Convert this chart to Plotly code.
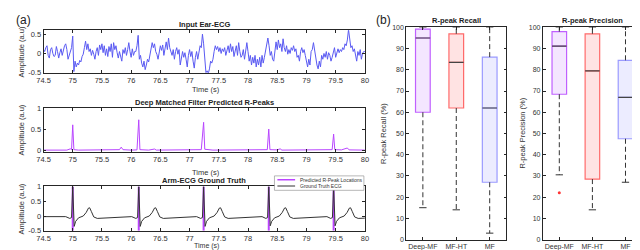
import numpy as np
import plotly.graph_objects as go

# ---------------- data: panel (a) ----------------
ear_dt = 0.02
ear_amp = [
    0.10, 0.05, 0.15, 0.20, -0.05,
    -0.12, 0.10, 0.15, 0.00, -0.08,
    -0.05, 0.18, 0.05, -0.12, 0.02,
    0.12, -0.05, 0.08, 0.20, 0.25,
    0.10, -0.15, -0.05, 0.05, 0.15,
    0.45, -0.47, -0.20, -0.35, -0.25,
    -0.30, -0.18, -0.22, -0.08, -0.02,
    0.15, 0.32, 0.10, 0.25, 0.05,
    0.12, -0.05, 0.08, -0.02, -0.15,
    0.05, 0.15, -0.05, 0.22, 0.10,
    0.25, 0.02, 0.20, -0.05, 0.12,
    -0.08, 0.18, 0.05, 0.25, -0.10,
    0.28, 0.10, 0.20, 0.02, -0.12,
    0.05, -0.08, -0.20, 0.10, 0.00,
    0.15, -0.05, 0.10, 0.28, 0.05,
    -0.10, 0.12, -0.05, 0.05, 0.05,
    0.20, 0.47, -0.15, -0.05, -0.25,
    -0.35, -0.20, -0.42, -0.30, -0.15,
    -0.22, -0.05, 0.05, 0.28, 0.15,
    0.25, 0.05, -0.02, -0.15, 0.05,
    0.20, 0.08, 0.22, -0.05, 0.15,
    0.30, 0.10, 0.40, 0.15, 0.05,
    -0.05, 0.10, -0.15, 0.05, 0.15,
    -0.02, 0.10, -0.30, -0.05, 0.05,
    -0.10, 0.02, -0.15, -0.35, -0.05,
    0.10, -0.08, 0.05, -0.20, -0.38,
    -0.10, 0.05, -0.15, 0.02, 0.20,
    0.15, 0.50, 0.25, -0.30, -0.50,
    -0.45, -0.52, -0.40, -0.20, -0.25,
    -0.15, 0.05, 0.20, 0.10, 0.18,
    0.05, 0.15, 0.00, 0.12, 0.05,
    0.15, -0.05, 0.12, 0.20, 0.02,
    0.25, 0.05, 0.18, -0.08, 0.10,
    0.20, -0.05, 0.28, 0.05, -0.10,
    -0.05, 0.10, -0.15, 0.05, 0.28,
    0.05, -0.20, -0.05, -0.30, -0.10,
    -0.25, -0.05, -0.35, -0.15, -0.30,
    -0.10, -0.35, -0.05, -0.25, -0.10,
    0.05, 0.15, 0.40, 0.20, -0.05,
    0.05, -0.15, -0.20, 0.05, 0.30,
    0.10, 0.35, 0.15, 0.25, 0.05,
    0.38, 0.15, 0.05, 0.20, -0.02,
    0.10, 0.00, 0.15, 0.08, 0.20,
    0.05, 0.12, -0.10, -0.05, -0.20,
    0.05, 0.15, 0.02, 0.10, -0.05,
    -0.25, -0.35, -0.15, -0.30, 0.05,
    0.10, 0.28, 0.05, -0.10, -0.30,
    -0.40, -0.20, -0.35, -0.05, -0.15,
    0.00, -0.10, 0.05, -0.15, 0.02,
    -0.05, -0.20, -0.10, 0.05, 0.15,
    -0.10, 0.05, 0.12, 0.02, 0.10,
    0.05, 0.15, 0.10, 0.25, 0.20,
    0.35, 0.62, 0.30, 0.15, 0.20,
    0.05, 0.12, -0.10, -0.20, 0.05,
    -0.05, 0.10, -0.15, 0.00, 0.05,
    0.05,
]
ear_t = np.round(74.5 + ear_dt * np.arange(len(ear_amp)), 3)

mf_t = [74.5, 74.7, 74.9, 74.96, 74.98, 75.0, 75.02, 75.1, 75.3, 75.5, 75.7, 75.8,
        75.83, 75.86, 76.0, 76.1, 76.13, 76.15, 76.3, 76.4, 76.43, 76.6, 76.8, 77.0,
        77.2, 77.24, 77.26, 77.4, 77.6, 77.9, 78.1, 78.2, 78.33, 78.355, 78.375,
        78.5, 78.55, 78.58, 78.8, 79.0, 79.2, 79.44, 79.465, 79.485, 79.6, 79.7,
        79.73, 79.85, 80.0]
mf_amp = [0.01, 0.015, 0.01, 0.04, 0.02, 0.61, 0.02, 0.01, 0.012, 0.01, 0.015, 0.02,
          0.08, 0.02, 0.01, 0.015, 0.73, 0.02, 0.01, 0.035, 0.01, 0.012, 0.01, 0.015,
          0.02, 0.67, 0.03, 0.01, 0.012, 0.01, 0.02, 0.01, 0.02, 0.51, 0.02,
          0.015, 0.04, 0.01, 0.012, 0.01, 0.015, 0.02, 0.39, 0.02, 0.015, 0.06,
          0.015, 0.012, 0.01]

ecg_t = [74.5, 74.7, 74.88, 74.95, 74.98, 75.0, 75.025, 75.05, 75.1, 75.18, 75.23, 75.27,
         75.29, 75.32, 75.36, 75.42, 75.6, 75.8, 76.01,
         76.08, 76.11, 76.13, 76.155, 76.18, 76.23, 76.31, 76.36, 76.4, 76.42, 76.45,
         76.49, 76.55, 76.73, 76.93, 77.12,
         77.19, 77.22, 77.24, 77.265, 77.29, 77.34, 77.42, 77.47, 77.51, 77.53, 77.56,
         77.6, 77.66, 77.84, 78.04, 78.24,
         78.305, 78.335, 78.355, 78.38, 78.405, 78.455, 78.535, 78.585, 78.625, 78.645,
         78.675, 78.715, 78.775, 78.955, 79.155, 79.35,
         79.415, 79.445, 79.465, 79.49, 79.515, 79.565, 79.645, 79.695, 79.735, 79.755,
         79.785, 79.825, 79.885, 80.0]
ecg_amp = [-0.02, -0.01, -0.02, -0.08, -0.05, 1.0, -0.35, -0.18, -0.06, 0.0, 0.12, 0.27,
           0.28, 0.15, -0.03, -0.08, -0.06, -0.04, -0.02,
           -0.08, -0.05, 1.0, -0.35, -0.18, -0.06, 0.0, 0.12, 0.27, 0.28, 0.15,
           -0.03, -0.08, -0.06, -0.04, -0.02,
           -0.08, -0.05, 1.0, -0.35, -0.18, -0.06, 0.0, 0.12, 0.27, 0.28, 0.15,
           -0.03, -0.08, -0.06, -0.04, -0.02,
           -0.08, -0.05, 1.0, -0.33, -0.18, -0.06, 0.0, 0.12, 0.27, 0.28,
           0.15, -0.03, -0.08, -0.06, -0.04, -0.02,
           -0.08, -0.05, 1.0, -0.33, -0.18, -0.06, 0.0, 0.12, 0.27, 0.28,
           0.15, -0.03, -0.08, -0.07]

pred_r_peaks = [75.0, 76.13, 77.24, 78.355, 79.465]
legend_labels = ["Predicted R-Peak Locations", "Ground Truth ECG"]

# ---------------- data: panel (b) ----------------
methods = ["Deep-MF", "MF-HT", "MF"]
recall_lower = [15, 14, 3]
recall_q1 = [60, 62, 27]
recall_median = [95, 83.5, 62]
recall_q3 = [99.2, 97, 86]
recall_upper = [100, 100, 100]

prec_lower = [30.5, 14, 27]
prec_q1 = [68.5, 28.5, 47.5]
prec_median = [91.2, 79.5, 67]
prec_q3 = [98, 97, 84.5]
prec_upper = [100, 100, 100]
prec_outlier_method = [0]
prec_outlier_value = [22]

# ---------------- styling ----------------
FONT = "Liberation Sans"
TICKC = "#333333"
line_col = ["#c060ff", "#ff6a6a", "#9a9aff"]
fill_col = ["#f4e6ff", "#ffe3e3", "#ececff"]
PEAK_COL = "#bb44ff"
ECG_COL = "#333333"
W, H = 640, 250


def dom_x(a, b):
    return [a / W, b / W]


def dom_y(top, bottom):
    return [1 - bottom / H, 1 - top / H]


fig = go.Figure()

# Top: ear ECG
fig.add_trace(go.Scatter(x=ear_t, y=ear_amp, mode="lines", line=dict(color="#5a5af2", width=1),
                         showlegend=False, xaxis="x", yaxis="y"))
# Middle: deep MF output
fig.add_trace(go.Scatter(x=mf_t, y=mf_amp, mode="lines", line=dict(color="#b845ff", width=1),
                         showlegend=False, xaxis="x2", yaxis="y2"))
# Bottom: predicted R-peaks + ground truth
y3_range = [-0.5, 1.0]
px, py = [], []
for t in pred_r_peaks:
    px += [t, t, None]
    py += [y3_range[0], y3_range[1], None]
fig.add_trace(go.Scatter(x=px, y=py, mode="lines", line=dict(color=PEAK_COL, width=2),
                         name=legend_labels[0], showlegend=False, xaxis="x3", yaxis="y3"))
fig.add_trace(go.Scatter(x=ecg_t, y=ecg_amp, mode="lines", line=dict(color=ECG_COL, width=1),
                         name=legend_labels[1], showlegend=False, xaxis="x3", yaxis="y3"))

# Box plots
positions = [1, 2, 3]
cap = 0.11
bw = 0.44


def add_boxes(xa, ya, lower, q1, med, q3, upper):
    for i, m in enumerate(methods):
        fig.add_trace(go.Box(x=[positions[i]], q1=[q1[i]], median=[med[i]], q3=[q3[i]],
                             lowerfence=[q1[i]], upperfence=[q3[i]], width=bw,
                             fillcolor=fill_col[i], line=dict(color=line_col[i], width=1.2),
                             boxpoints=False, showlegend=False, hoverinfo="skip",
                             xaxis=xa, yaxis=ya))
    wx, wy, cx, cy, mx, my = [], [], [], [], [], []
    for i in range(len(methods)):
        p = positions[i]
        wx += [p, p, None, p, p, None]
        wy += [q3[i], upper[i], None, q1[i], lower[i], None]
        cx += [p - cap, p + cap, None, p - cap, p + cap, None]
        cy += [upper[i], upper[i], None, lower[i], lower[i], None]
        mx += [p - bw / 2, p + bw / 2, None]
        my += [med[i], med[i], None]
    fig.add_trace(go.Scatter(x=wx, y=wy, mode="lines", line=dict(color="#333333", width=1, dash="5px,3px"),
                             showlegend=False, xaxis=xa, yaxis=ya))
    fig.add_trace(go.Scatter(x=cx, y=cy, mode="lines", line=dict(color="#333333", width=1),
                             showlegend=False, xaxis=xa, yaxis=ya))
    fig.add_trace(go.Scatter(x=mx, y=my, mode="lines", line=dict(color="#444444", width=1.2),
                             showlegend=False, xaxis=xa, yaxis=ya))


add_boxes("x4", "y4", recall_lower, recall_q1, recall_median, recall_q3, recall_upper)
add_boxes("x5", "y5", prec_lower, prec_q1, prec_median, prec_q3, prec_upper)
fig.add_trace(go.Scatter(x=[positions[i] for i in prec_outlier_method], y=prec_outlier_value,
                         mode="markers", marker=dict(color="#ff3333", size=3),
                         showlegend=False, xaxis="x5", yaxis="y5"))

axis_common = dict(showline=True, linecolor="#262626", linewidth=0.7, mirror="ticks",
                   ticks="inside", ticklen=3, tickcolor="#262626", tickwidth=0.7,
                   showgrid=False, zeroline=False, tickfont=dict(family=FONT, size=7.5, color=TICKC))
box_axis = dict(axis_common)
box_axis["tickfont"] = dict(family=FONT, size=7, color=TICKC)

xa_dom = dom_x(29, 356)
xticks = [74.5, 75, 75.5, 76, 76.5, 77, 77.5, 78, 78.5, 79, 79.5, 80]
xtick_text = ["74.5", "75", "75.5", "76", "76.5", "77", "77.5", "78", "78.5", "79", "79.5", "80"]

layout = dict(
    width=W, height=H, margin=dict(l=0, r=0, t=0, b=0),
    paper_bgcolor="white", plot_bgcolor="white",
    font=dict(family=FONT, size=7.5, color="#222"),
    xaxis=dict(domain=xa_dom, range=[74.5, 80], anchor="y", tickvals=xticks, ticktext=xtick_text, **axis_common),
    yaxis=dict(domain=dom_y(19, 63), range=[-0.5, 0.6], anchor="x", tickvals=[-0.5, 0, 0.5],
               ticktext=["-0.5", "0", "0.5"], **axis_common),
    xaxis2=dict(domain=xa_dom, range=[74.5, 80], anchor="y2", tickvals=xticks, ticktext=xtick_text, **axis_common),
    yaxis2=dict(domain=dom_y(100, 145), range=[-0.03, 1.0], anchor="x2", tickvals=[0, 0.5, 1],
                ticktext=["0", "0.5", "1"], **axis_common),
    xaxis3=dict(domain=xa_dom, range=[74.5, 80], anchor="y3", tickvals=xticks, ticktext=xtick_text, **axis_common),
    yaxis3=dict(domain=dom_y(181, 227), range=y3_range, anchor="x3", tickvals=[-0.5, 0, 0.5, 1],
                ticktext=["-0.5", "0", "0.5", "1"], **axis_common),
    xaxis4=dict(domain=dom_x(398, 500), range=[0.5, 3.5], anchor="y4", tickvals=positions, ticktext=methods, **box_axis),
    yaxis4=dict(domain=dom_y(16, 236), range=[0, 100], anchor="x4", dtick=10, **box_axis),
    xaxis5=dict(domain=dom_x(537, 638), range=[0.5, 3.5], anchor="y5", tickvals=positions, ticktext=methods, **box_axis),
    yaxis5=dict(domain=dom_y(16, 236), range=[0, 100], anchor="x5", dtick=10, **box_axis),
    showlegend=False,
)
fig.update_layout(**layout)


def ann(text, x, y, size=7.5, bold=False, angle=0, color="#222", xanchor="center"):
    fig.add_annotation(text=f"<b>{text}</b>" if bold else text, x=x / W, y=1 - y / H,
                       xref="paper", yref="paper", showarrow=False, textangle=angle,
                       font=dict(family=FONT, size=size, color=color), xanchor=xanchor, yanchor="middle")


cx = (29 + 356) / 2
ann("(a)", 9, 8, size=12)
ann("(b)", 375, 8, size=12)
ann("Input Ear-ECG", cx, 13, bold=True)
ann("Deep Matched Filter Predicted R-Peaks", cx, 94, bold=True)
ann("Arm-ECG Ground Truth", cx, 175, bold=True)
ann("Time (s)", cx + 2, 80, color=TICKC)
ann("Time (s)", cx + 2, 166, color=TICKC)
ann("Time (s)", cx + 2, 243, color=TICKC, size=7)
for yc in [41, 122, 204]:
    ann("Amplitude (a.u)", 7, yc, angle=-90, color=TICKC)
ann("R-peak Recall", 449, 9, bold=True)
ann("R-peak Precision", 588, 9, bold=True)
ann("R-peak Recall (%)", 375, 126, angle=-90, color=TICKC)
ann("R-peak Precision (%)", 516, 126, angle=-90, color=TICKC)

# compact legend box (MATLAB style) in the bottom-right of the bottom panel
lg_l, lg_r, lg_t, lg_b = 264, 355, 170, 185
fig.add_shape(type="rect", xref="paper", yref="paper", x0=lg_l / W, x1=lg_r / W,
              y0=1 - lg_b / H, y1=1 - lg_t / H, line=dict(color="#888888", width=0.6),
              fillcolor="white", layer="above")
for k, (lab, col, lw) in enumerate(zip(legend_labels, [PEAK_COL, ECG_COL], [1.5, 1])):
    yy = lg_t + 4 + k * 6.5
    fig.add_shape(type="line", xref="paper", yref="paper", x0=(lg_l + 3) / W, x1=(lg_l + 21) / W,
                  y0=1 - yy / H, y1=1 - yy / H, line=dict(color=col, width=lw), layer="above")
    ann(lab, lg_l + 24, yy, size=5, color="#333", xanchor="left")

fig.write_html("out.html")
